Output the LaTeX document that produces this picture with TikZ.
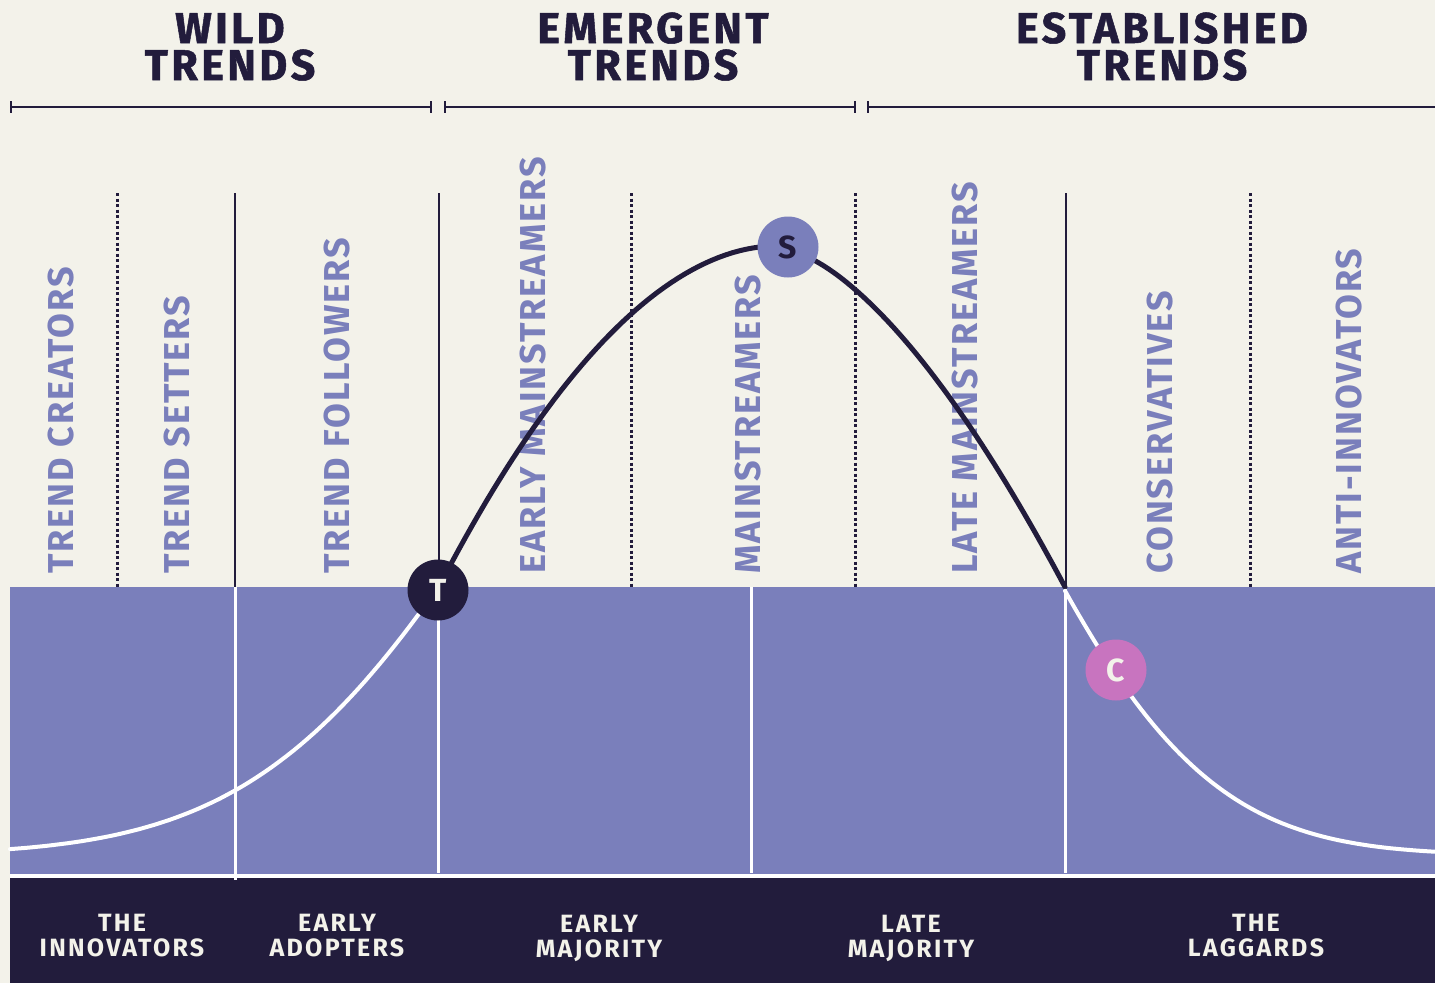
\documentclass[tikz,border=0pt]{standalone}
\usepackage{fontspec}
\setmainfont{Fira Sans}
\usepackage{xcolor}
\usepackage{tikz}
\usetikzlibrary{positioning}
\definecolor{cream}{HTML}{F3F2EA}
\definecolor{navy}{HTML}{221C3C}
\definecolor{lilac}{HTML}{7A7FBB}
\definecolor{orchid}{HTML}{C874BF}

\begin{document}
\begin{tikzpicture}[
    x=1pt, y=-1pt,
    heading/.style={align=center, inner sep=0pt, anchor=base, text=navy,
                    font=\fontsize{43}{37}\selectfont\bfseries\addfontfeatures{LetterSpace=8,FakeBold=1.2}},
    phase/.style={rotate=90, anchor=west, inner sep=0pt, text=lilac,
                  font=\fontsize{36}{36}\selectfont\bfseries\addfontfeatures{LetterSpace=5.5}},
    group/.style={align=center, inner sep=0pt, anchor=base, text=cream,
                  font=\fontsize{25}{25}\selectfont\bfseries\addfontfeatures{LetterSpace=9}},
    marker/.style={circle, minimum size=61pt, inner sep=0pt,
                   font=\fontsize{32}{32}\selectfont\bfseries},
    bracket/.style={navy, line width=2pt},
    divider/.style={navy, line width=2pt},
    dotline/.style={navy, line width=3pt, dash pattern=on 3pt off 2.5pt},
    gap/.style={white, line width=3pt},
    curve/.style={line width=5pt, line cap=round}
]
\useasboundingbox (0,0) rectangle (1435,983);
\fill[cream] (0,0) rectangle (1435,983);

% Headings and brackets
\node[heading] (wild) at (230,80) {WILD\\TRENDS};
\node[heading] (emergent) at (653,80) {EMERGENT\\TRENDS};
\node[heading] (established) at (1162,80) {ESTABLISHED\\TRENDS};
\foreach \a/\b in {11/431, 445/855, 868/1445}
  \draw[bracket] (\a,101) -- (\a,113) (\a,107) -- (\b,107) (\b,101) -- (\b,113);

% Dividers above the band
\foreach \x in {117,631,855,1250}
  \draw[dotline] (\x,193) -- (\x,587);
\foreach \x in {235,439,1066}
  \draw[divider] (\x,193) -- (\x,587);

% Bands
\fill[lilac] (10,587) rectangle (1435,874);
\fill[navy] (10,877) rectangle (1435,983);
\draw[white, line width=4pt] (10,875.5) -- (1435,875.5);
\draw[gap] (235,587) -- (235,880);
\foreach \x in {438,751,1065}
  \draw[gap] (\x,587) -- (\x,873);

% Phase labels
\node[phase] (creators) at (61,574) {TREND CREATORS};
\node[phase] (setters) at (177,574) {TREND SETTERS};
\node[phase] (followers) at (337,574) {TREND FOLLOWERS};
\node[phase] (earlymain) at (533,574) {EARLY MAINSTREAMERS};
\node[phase] (main) at (748,574) {MAINSTREAMERS};
\node[phase] (latemain) at (965,574) {LATE MAINSTREAMERS};
\node[phase] (conservatives) at (1160,574) {CONSERVATIVES};
\node[phase] (anti) at (1349,574) {ANTI-INNOVATORS};

% Curve
\draw[curve, white, line width=4pt] plot[domain=10:438, samples=60]
  (\x, {855-610*exp(0-((\x-750)/343.65)^2)});
\draw[curve, navy] plot[domain=438:774, samples=50]
  (\x, {246+69*((775-\x)/145)^1.9})
  -- plot[domain=776:1065, samples=50]
  (\x, {246+341*((\x-775)/290)^1.6});
\draw[curve, white, line width=4pt] plot[domain=1065:1440, samples=60]
  (\x, {855-610*exp(0-((\x-818)/270)^2)});

% Markers
\node[marker, fill=navy, text=cream] (T) at (438,590) {T};
\node[marker, fill=lilac, text=navy] (S) at (788,247) {S};
\node[marker, fill=orchid, text=cream] (C) at (1116,670) {C};

% Adopter groups
\node[group] (innovators) at (122,956) {THE\\INNOVATORS};
\node[group] (adopters) at (337,956) {EARLY\\ADOPTERS};
\node[group] (earlymaj) at (599,957) {EARLY\\MAJORITY};
\node[group] (latemaj) at (911,957) {LATE\\MAJORITY};
\node[group] (laggards) at (1256,956) {THE\\LAGGARDS};
\end{tikzpicture}
\end{document}
